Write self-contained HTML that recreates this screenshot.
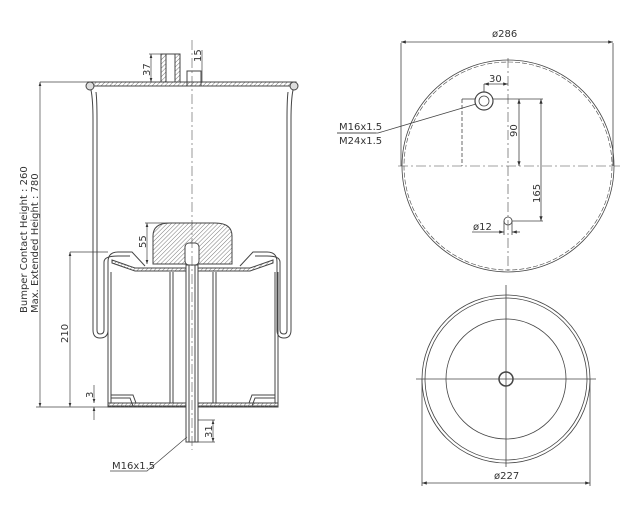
<!DOCTYPE html>
<html><head><style>body{margin:0;background:#fff}svg{display:block}text{font-family:"DejaVu Sans","Liberation Sans",sans-serif;fill:#333}</style></head>
<body>
<svg width="640" height="520" viewBox="0 0 640 520" xmlns="http://www.w3.org/2000/svg">
<defs>
<pattern id="h" width="3" height="3" patternUnits="userSpaceOnUse" patternTransform="rotate(45)"><line x1="0" y1="0" x2="0" y2="3" stroke="#777" stroke-width="1"/></pattern>
<marker id="a" markerWidth="6" markerHeight="6" refX="6" refY="3" orient="auto-start-reverse"><path d="M0,1 L6,3 L0,5z" fill="#333"/></marker>
</defs>
<g fill="none" stroke="#444" stroke-width="1">
<!-- top plate -->
<path d="M88,82 L296,82 L296,86 L88,86 Z" fill="url(#h)"/>
<circle cx="90" cy="86" r="4" fill="#ddd"/><circle cx="294" cy="86" r="4" fill="#ddd"/>
<!-- top stud -->
<rect x="161" y="54" width="19" height="28" fill="url(#h)"/>
<rect x="166" y="54" width="9" height="28" fill="#fff"/>
<rect x="187" y="71" width="14" height="15"/>
<!-- bellow -->
<path d="M91,90 Q93,100 93,120 L93,330 Q93,338 100,338 Q108,338 108,330 L108,262 Q108,252 118,252 L132,252 L145,266"/>
<path d="M96,92 Q97,100 97,120 L97,330 Q97,334 100,334 Q104,334 104,330 L104,262 Q104,256 118,256 L130,256"/>
<path d="M293,90 Q291,100 291,120 L291,330 Q291,338 284,338 Q277,338 277,330 L277,262 Q277,252 267,252 L253,252 L240,266"/>
<path d="M288,92 Q287,100 287,120 L287,330 Q287,334 284,334 Q280,334 280,330 L280,262 Q280,256 267,256 L255,256"/>
<!-- piston top -->
<path d="M112,260 L135,268 L250,268 L273,260 L273,263 L250,271 L135,271 L112,263Z" fill="url(#h)"/>
<!-- bumper -->
<path d="M153,264 L153,236 Q153,223 170,223 L215,223 Q232,223 232,236 L232,264 Z" fill="url(#h)"/>
<rect x="185" y="243" width="14" height="22" rx="4" fill="#fff"/>
<!-- piston walls -->
<path d="M108,272 L108,406 L278,406 L278,272"/>
<path d="M111,272 L111,403 M275,272 L275,403"/>
<path d="M170,272 L170,403 M173,272 L173,403 M213,272 L213,403 M216,272 L216,403"/>
<path d="M111,395 L133,395 L136,403 M275,395 L252,395 L249,403"/>
<path d="M111,398 L130,398 L133,406 M275,398 L255,398 L252,406" />
<rect x="108" y="403" width="170" height="4" fill="url(#h)"/>
<!-- stud -->
<rect x="186" y="265" width="12" height="177" fill="#fff"/>
<line x1="189" y1="265" x2="189" y2="442"/><line x1="195" y1="265" x2="195" y2="442"/>
</g>
<!-- centerline -->
<line x1="192" y1="40" x2="192" y2="450" stroke="#555" stroke-width="0.6" stroke-dasharray="10,3,2,3"/>
<!-- dims left -->
<g stroke="#444" stroke-width="0.7" fill="none">
<line x1="40" y1="82" x2="88" y2="82"/><line x1="40" y1="82" x2="40" y2="407" marker-start="url(#a)" marker-end="url(#a)"/>
<line x1="36" y1="407" x2="108" y2="407"/>
<line x1="70" y1="252" x2="108" y2="252"/><line x1="70" y1="252" x2="70" y2="407" marker-start="url(#a)" marker-end="url(#a)"/>
<line x1="94" y1="385" x2="94" y2="403" marker-end="url(#a)"/><line x1="94" y1="420" x2="94" y2="407" marker-end="url(#a)"/>
<line x1="147" y1="223" x2="147" y2="264" marker-start="url(#a)" marker-end="url(#a)"/><line x1="145" y1="223" x2="170" y2="223"/>
<line x1="151" y1="54" x2="151" y2="82" marker-start="url(#a)" marker-end="url(#a)"/><line x1="149" y1="54" x2="161" y2="54"/>
<line x1="202" y1="50" x2="202" y2="71"/><line x1="202" y1="71" x2="202" y2="82"/>
<line x1="213" y1="420" x2="213" y2="442" marker-start="url(#a)" marker-end="url(#a)"/><line x1="198" y1="442" x2="215" y2="442"/><line x1="198" y1="420" x2="215" y2="420"/>
<path d="M110,471 L147,471 L187,437"/>
</g>
<g font-size="10">
<text transform="translate(27,313) rotate(-90)">Bumper Contact Height : 260</text>
<text transform="translate(38,313) rotate(-90)">Max. Extended Height : 780</text>
<text transform="translate(68,343) rotate(-90)">210</text>
<text transform="translate(93,398) rotate(-90)">3</text>
<text transform="translate(146,248) rotate(-90)">55</text>
<text transform="translate(150,76) rotate(-90)">37</text>
<text transform="translate(201,62) rotate(-90)">15</text>
<text transform="translate(212,438) rotate(-90)">31</text>
<text x="112" y="469">M16x1.5</text>
</g>
<!-- top view -->
<g fill="none" stroke="#444" stroke-width="0.8">
<circle cx="508" cy="166" r="106"/>
<circle cx="508" cy="166" r="104" stroke-dasharray="5,2" stroke-width="0.6"/>
<circle cx="484" cy="101" r="9" stroke-width="1.2"/><circle cx="484" cy="101" r="5"/>
<circle cx="508" cy="221" r="4"/>
<line x1="398" y1="166" x2="620" y2="166" stroke-dasharray="10,3,2,3" stroke-width="0.6"/>
<line x1="508" y1="58" x2="508" y2="272" stroke-dasharray="10,3,2,3" stroke-width="0.6"/>
<line x1="462" y1="99" x2="462" y2="166" stroke-dasharray="4,2"/><line x1="462" y1="99" x2="475" y2="99"/>
<line x1="493" y1="99" x2="543" y2="99"/>
<line x1="519" y1="99" x2="519" y2="166" marker-start="url(#a)" marker-end="url(#a)"/>
<line x1="541" y1="99" x2="541" y2="221" marker-start="url(#a)" marker-end="url(#a)"/>
<line x1="512" y1="221" x2="543" y2="221"/>
<line x1="484" y1="84" x2="484" y2="92"/>
<line x1="484" y1="84" x2="508" y2="84" marker-start="url(#a)" marker-end="url(#a)"/>
<line x1="504" y1="221" x2="504" y2="235"/><line x1="512" y1="221" x2="512" y2="235"/>
<line x1="472" y1="232" x2="504" y2="232" marker-end="url(#a)"/><line x1="520" y1="232" x2="512" y2="232" marker-end="url(#a)"/>
<line x1="401" y1="43" x2="401" y2="166"/><line x1="613" y1="43" x2="613" y2="166"/>
<line x1="401" y1="42" x2="613" y2="42" marker-start="url(#a)" marker-end="url(#a)"/>
<path d="M337,133 L378,133 L476,104"/>
<line x1="337" y1="133" x2="376" y2="133"/>
</g>
<g font-size="10">
<text x="492" y="37">ø286</text>
<text x="489" y="82">30</text>
<text transform="translate(517,137) rotate(-90)">90</text>
<text transform="translate(540,203) rotate(-90)">165</text>
<text x="473" y="230">ø12</text>
<text x="339" y="130">M16x1.5</text>
<text x="339" y="144">M24x1.5</text>
</g>
<!-- bottom view -->
<g fill="none" stroke="#444" stroke-width="0.8">
<circle cx="506" cy="379" r="84"/><circle cx="506" cy="379" r="81"/>
<circle cx="506" cy="379" r="60"/>
<circle cx="506" cy="379" r="7" stroke-width="1.5"/>
<line x1="416" y1="379" x2="596" y2="379"/><line x1="506" y1="285" x2="506" y2="467"/>
<line x1="422" y1="379" x2="422" y2="486"/><line x1="590" y1="379" x2="590" y2="486"/>
<line x1="422" y1="483" x2="590" y2="483" marker-start="url(#a)" marker-end="url(#a)"/>
</g>
<text x="494" y="479" font-size="10">ø227</text>
</svg>
</body></html>
